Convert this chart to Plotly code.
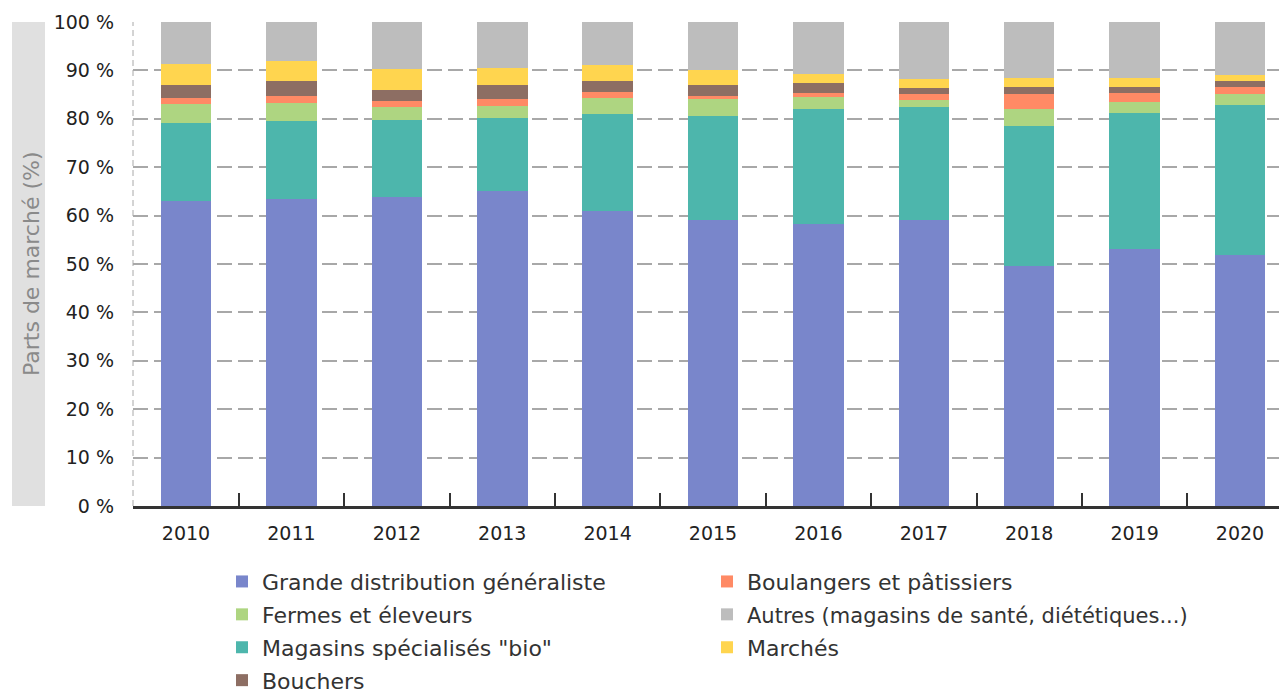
import plotly.graph_objects as go

years = ["2010", "2011", "2012", "2013", "2014", "2015", "2016", "2017", "2018", "2019", "2020"]

grande_distribution = [63.1, 63.5, 63.9, 65.1, 60.9, 59.0, 58.3, 59.1, 49.6, 53.0, 51.8]
magasins_bio = [16.0, 16.0, 15.9, 15.1, 20.1, 21.5, 23.8, 23.3, 29.0, 28.3, 31.0]
fermes = [4.0, 3.7, 2.6, 2.5, 3.3, 3.5, 2.5, 1.5, 3.4, 2.2, 2.3]
boulangers = [1.2, 1.5, 1.2, 1.3, 1.2, 0.7, 0.8, 1.2, 3.1, 1.9, 1.5]
bouchers = [2.6, 3.1, 2.3, 3.0, 2.3, 2.2, 1.9, 1.2, 1.5, 1.1, 1.2]
marches = [4.5, 4.1, 4.4, 3.4, 3.4, 3.1, 2.0, 1.9, 1.9, 2.0, 1.2]
autres = [8.6, 8.1, 9.7, 9.6, 8.8, 10.0, 10.7, 11.8, 11.5, 11.5, 11.0]

y_tick_values = [0, 10, 20, 30, 40, 50, 60, 70, 80, 90, 100]
y_tick_labels = ["0 %", "10 %", "20 %", "30 %", "40 %", "50 %", "60 %", "70 %", "80 %", "90 %", "100 %"]

# (name, values, colour, legend rank, legend text size) in stacking order, bottom to top
series = [
    ("Grande distribution généraliste", grande_distribution, "#7986CB", 1, 22),
    ('Magasins spécialisés "bio"', magasins_bio, "#4DB6AC", 5, 22),
    ("Fermes et éleveurs", fermes, "#AED581", 3, 22),
    ("Boulangers et pâtissiers", boulangers, "#FF8A65", 2, 22),
    ("Bouchers", bouchers, "#8D6E63", 7, 22),
    ("Marchés", marches, "#FFD54F", 6, 22),
    ("Autres (magasins de santé, diététiques...)", autres, "#BDBDBD", 4, 21),
]

fig = go.Figure()
for name, vals, color, rank, fs in series:
    fig.add_bar(
        x=years, y=vals,
        name='<span style="font-size:%spx">%s</span>' % (fs, name),
        marker=dict(color=color, line=dict(width=0)),
        legendrank=rank,
    )

# page is offset by the 8px body margin
OFF = 8
W, H = 1287, 691
PL, PT, PB, PR = 133, 22, 506, 1287   # plot area in page pixels
L, T = PL - OFF, PT - OFF
B = H - (PB - OFF)
R = W - (PR - OFF)
pw = PR - PL
ph = PB - PT

def px_x(p):
    return (p - PL) / pw

def px_y(p):
    return (PB - p) / ph

fig.update_layout(
    width=W, height=H,
    margin=dict(l=L, r=R, t=T, b=B, pad=0, autoexpand=False),
    barmode="stack",
    bargap=0.52,
    plot_bgcolor="white",
    paper_bgcolor="white",
    font=dict(family="DejaVu Sans", size=18, color="#333333"),
    showlegend=True,
    legend=dict(
        orientation="h",
        traceorder="normal",
        x=px_x(222), xanchor="left",
        y=px_y(560), yanchor="top",
        entrywidth=440,
        font=dict(size=23, color="#333333"),
        bgcolor="rgba(0,0,0,0)",
    ),
    xaxis=dict(
        type="category",
        range=[-0.503, 10.446],
        showgrid=False,
        automargin=False,
        showline=True, linecolor="#333333", linewidth=2.5,
        ticks="inside", tickson="boundaries", ticklen=13, tickwidth=1.5, tickcolor="#333333",
        ticklabelstandoff=8,
        tickfont=dict(size=19, color="#222222"),
        zeroline=False,
    ),
    yaxis=dict(
        range=[0, 100],
        tickmode="array",
        tickvals=y_tick_values,
        ticktext=y_tick_labels,
        automargin=False,
        showgrid=True, gridcolor="#a8a8a8", gridwidth=1.5, griddash="15px,6px",
        showline=False, zeroline=False,
        ticks="", ticklabelstandoff=18,
        tickfont=dict(size=19, color="#222222"),
    ),
    shapes=[
        dict(type="rect", xref="paper", yref="paper",
             x0=px_x(12), x1=px_x(45), y0=0, y1=1,
             fillcolor="#e0e0e0", line=dict(width=0), layer="below"),
        dict(type="line", xref="paper", yref="paper",
             x0=0, x1=0, y0=0, y1=1,
             line=dict(color="#a8a8a8", width=1, dash="6px,4px")),
    ],
    annotations=[
        dict(text="Parts de marché (%)", xref="paper", yref="paper",
             x=px_x(31), y=0.5, xanchor="center", yanchor="middle",
             textangle=-90, showarrow=False,
             font=dict(size=22, color="#8a8a8a")),
    ],
)

fig.write_html("out.html")
